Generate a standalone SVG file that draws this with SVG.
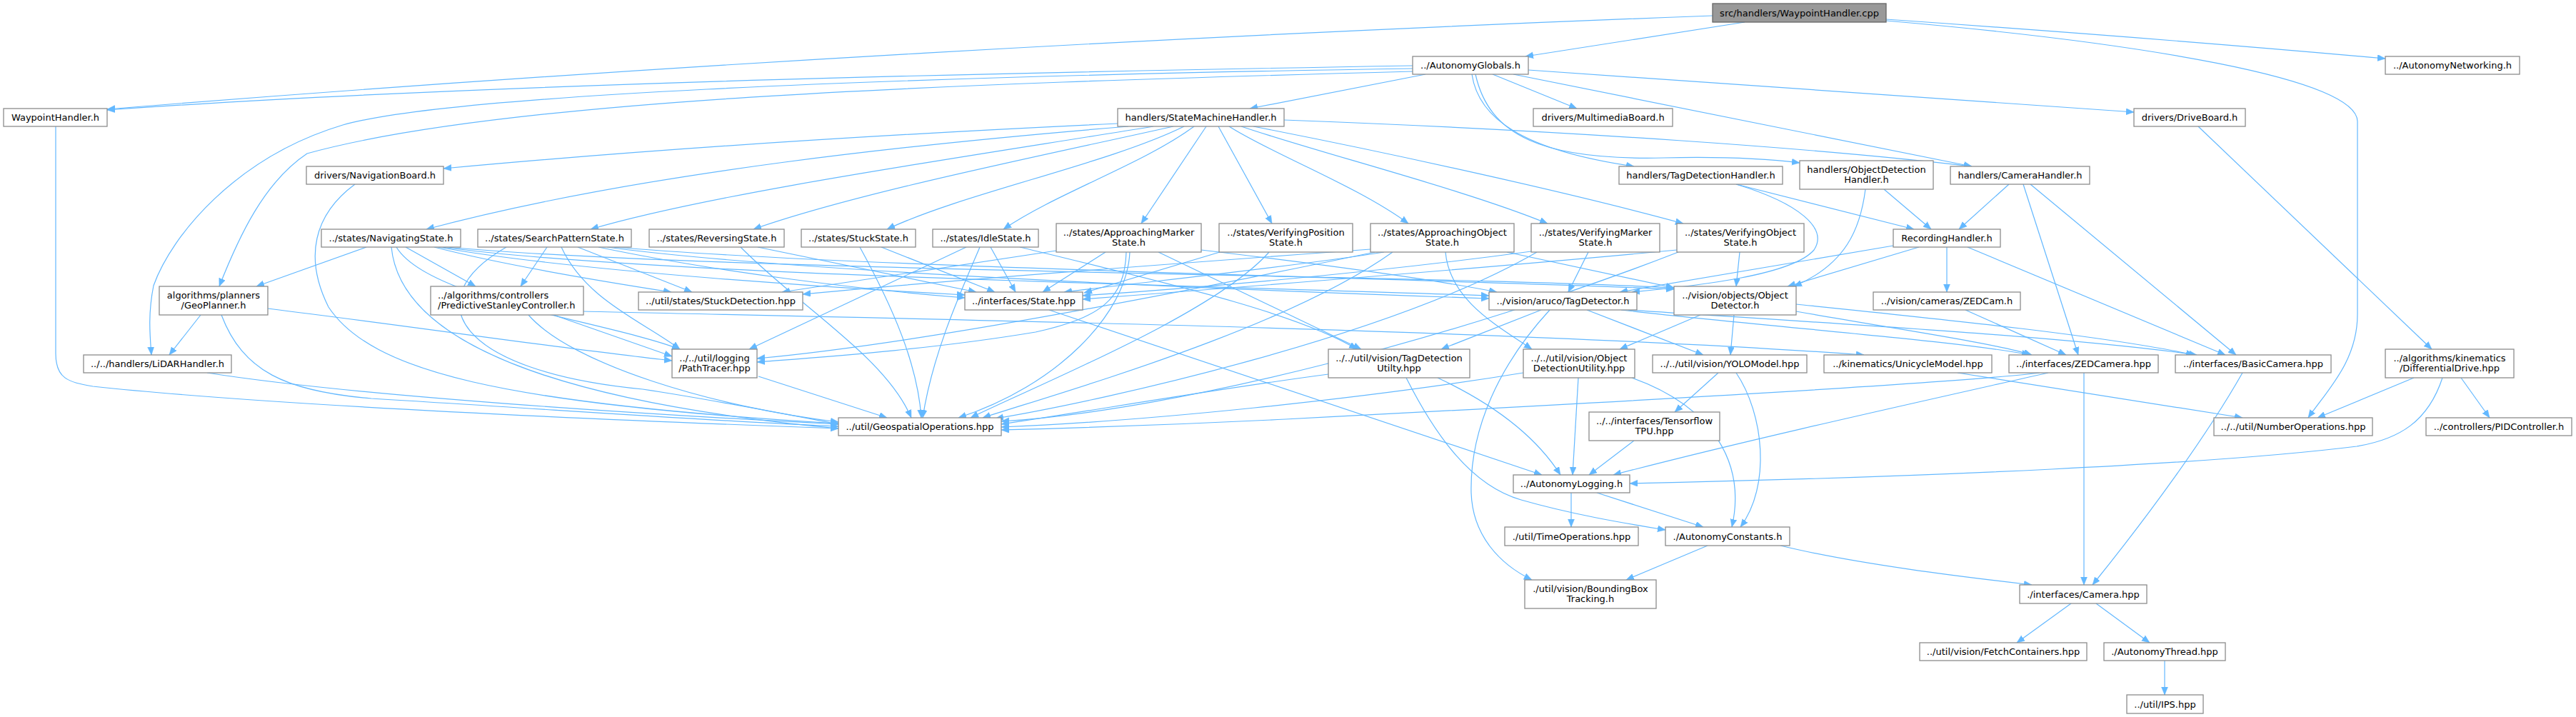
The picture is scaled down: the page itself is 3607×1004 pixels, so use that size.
<svg xmlns="http://www.w3.org/2000/svg" width="3607" height="1004" viewBox="0 0 3607 1004">
<style>
.node rect{fill:#ffffff;stroke:#8c8c8c;stroke-width:1.3}
.src rect{fill:#999999;stroke:#666666}
text{font-family:"DejaVu Sans","Noto Sans",sans-serif;font-size:13px;fill:#000000;text-anchor:middle}
text.l{text-anchor:start}
.e path{fill:none;stroke:#63b8ff;stroke-width:1.2;marker-end:url(#ah)}
</style>
<defs>
<marker id="ah" markerUnits="userSpaceOnUse" markerWidth="12" markerHeight="10" refX="11" refY="4.5" orient="auto">
<path d="M0,0 L11,4.5 L0,9 z" fill="#63b8ff" stroke="#63b8ff" stroke-width="0.5"/>
</marker>
</defs>
<rect x="0" y="0" width="3607" height="1004" fill="#ffffff"/>
<g id="edges" class="e">
<path d="M2443,31 L2136,79"/>
<path d="M2398,22 C1700,48 900,92 150,153"/>
<path d="M2641,27 C2900,45 3150,65 3340,82"/>
<path d="M2641,29 C3000,60 3300,110 3301,170 L3301,440 C3301,505 3260,545 3232,585"/>
<path d="M1978,92 C1500,100 700,115 150,154"/>
<path d="M1978,96 C1200,108 620,135 480,175 C330,220 240,330 215,400 C207,440 210,470 212,497"/>
<path d="M1978,100 C1300,118 700,140 430,215 C370,255 335,330 307,401"/>
<path d="M1996,104 L1750,152"/>
<path d="M2090,104 L2208,152"/>
<path d="M2140,98 L2988,157"/>
<path d="M2061,104 C2070,165 2130,210 2288,233"/>
<path d="M2066,104 C2085,190 2160,225 2330,221 C2420,219 2480,223 2520,228"/>
<path d="M2119,104 L2761,233"/>
<path d="M1798,168 C2200,183 2550,208 2761,233"/>
<path d="M1565,173 C1200,190 900,210 621,236"/>
<path d="M1580,177 C1300,200 900,240 597,321"/>
<path d="M1615,177 C1350,220 1000,270 827,321"/>
<path d="M1643,177 C1450,220 1200,270 1055,321"/>
<path d="M1658,177 C1550,230 1350,270 1242,321"/>
<path d="M1672,177 C1600,230 1480,270 1405,321"/>
<path d="M1689,177 L1598,313"/>
<path d="M1706,177 L1781,313"/>
<path d="M1721,177 C1780,215 1900,260 1972,313"/>
<path d="M1738,177 C1850,215 2050,265 2167,313"/>
<path d="M1755,177 C1950,215 2200,270 2357,313"/>
<path d="M2431,258 L2680,321"/>
<path d="M2431,258 C2520,285 2560,320 2540,350 C2510,385 2380,400 2285,409"/>
<path d="M2638,265 L2704,321"/>
<path d="M2612,265 C2605,320 2585,370 2512,401"/>
<path d="M2813,258 L2743,321"/>
<path d="M2833,258 L2910,497"/>
<path d="M2843,258 L3131,497"/>
<path d="M3078,177 L3405,489"/>
<path d="M3380,529 L3245,585"/>
<path d="M3446,529 L3486,585"/>
<path d="M3420,529 C3400,590 3360,615 3300,625 C3100,650 2700,668 2282,677"/>
<path d="M2741,522 L3140,585"/>
<path d="M2651,344 L2268,409"/>
<path d="M2687,346 L2503,401"/>
<path d="M2726,346 L2726,409"/>
<path d="M2755,346 L3116,497"/>
<path d="M513,346 L359,401"/>
<path d="M568,346 L666,401"/>
<path d="M608,346 C700,370 850,395 940,409"/>
<path d="M614,346 C800,380 1200,405 1351,413"/>
<path d="M620,346 C900,385 1700,400 2085,414"/>
<path d="M626,346 C1000,380 2000,385 2344,403"/>
<path d="M555,346 C600,420 850,450 952,489"/>
<path d="M548,346 C560,470 750,560 1174,600"/>
<path d="M766,346 L729,401"/>
<path d="M809,346 L969,409"/>
<path d="M838,346 C1000,380 1200,405 1351,417"/>
<path d="M850,346 C1100,380 1700,405 2085,418"/>
<path d="M860,346 C1200,375 2000,390 2344,405"/>
<path d="M786,346 C820,420 900,450 952,489"/>
<path d="M709,346 C580,420 640,520 900,545 C1000,560 1100,580 1174,594"/>
<path d="M1037,346 C1120,430 1240,500 1276,585"/>
<path d="M1061,346 L1367,409"/>
<path d="M1204,346 C1250,430 1285,510 1290,585"/>
<path d="M1234,346 L1393,409"/>
<path d="M1353,346 L1049,489"/>
<path d="M1372,346 C1340,420 1305,500 1292,585"/>
<path d="M1387,346 L1422,409"/>
<path d="M1428,346 C1650,400 1820,440 1900,489"/>
<path d="M1479,351 L1095,409"/>
<path d="M1548,353 L1460,409"/>
<path d="M1582,353 C1578,440 1480,540 1342,585"/>
<path d="M1622,353 L1906,489"/>
<path d="M1682,350 C1850,370 2000,390 2096,409"/>
<path d="M1577,353 C1575,420 1540,445 1450,465 C1300,490 1150,500 1060,507"/>
<path d="M1708,353 L1518,410"/>
<path d="M1777,353 C1700,440 1450,540 1359,585"/>
<path d="M1919,349 C1700,365 1300,395 1124,412"/>
<path d="M1938,353 C1800,375 1600,395 1490,409"/>
<path d="M1925,353 C1700,400 1300,480 1060,502"/>
<path d="M1950,353 C1800,460 1500,545 1376,585"/>
<path d="M2024,353 C2030,420 2095,455 2145,489"/>
<path d="M2110,353 L2344,403"/>
<path d="M2224,353 L2196,409"/>
<path d="M2144,352 C1900,385 1650,405 1516,414"/>
<path d="M2152,353 C1950,470 1550,560 1394,586"/>
<path d="M2436,353 L2431,401"/>
<path d="M2348,350 C2050,378 1700,405 1516,419"/>
<path d="M2350,353 C2050,470 1650,575 1402,590"/>
<path d="M281,441 L237,497"/>
<path d="M375,432 C600,460 800,490 941,505"/>
<path d="M310,441 C340,520 400,548 520,558 C800,575 1000,590 1174,597"/>
<path d="M817,436 C1200,445 2100,460 2610,497"/>
<path d="M740,441 C800,510 1000,570 1174,591"/>
<path d="M775,441 L941,499"/>
<path d="M290,522 C500,555 900,580 1174,594"/>
<path d="M78,177 L78,495 C78,530 95,535 130,541 C400,570 900,590 1174,600"/>
<path d="M497,258 C440,300 425,360 460,430 C520,520 700,565 1174,593"/>
<path d="M1062,527 L1242,585"/>
<path d="M1860,524 C1700,545 1500,580 1402,594"/>
<path d="M1969,529 C2010,610 2060,680 2130,700 C2200,720 2270,732 2332,742"/>
<path d="M2013,529 C2090,565 2150,610 2185,665"/>
<path d="M2210,529 L2202,665"/>
<path d="M2133,522 C1900,560 1600,590 1402,598"/>
<path d="M2285,529 C2400,570 2445,650 2425,738"/>
<path d="M2406,522 L2345,577"/>
<path d="M2431,522 C2470,580 2480,680 2437,738"/>
<path d="M2288,617 L2225,665"/>
<path d="M1469,434 L2159,665"/>
<path d="M2918,522 L2918,819"/>
<path d="M2856,522 C2750,535 2400,556 1800,587 C1600,597 1480,600 1402,602"/>
<path d="M2868,522 C2700,560 2450,615 2259,665"/>
<path d="M3140,522 C3090,610 3010,720 2930,819"/>
<path d="M2200,690 L2200,738"/>
<path d="M2236,690 L2385,738"/>
<path d="M2391,764 L2277,812"/>
<path d="M2493,764 C2600,790 2750,808 2845,819"/>
<path d="M2158,434 L2018,489"/>
<path d="M2170,434 C2100,510 2058,600 2060,690 C2062,750 2100,790 2145,812"/>
<path d="M2222,434 L2385,497"/>
<path d="M2270,434 C2500,460 2750,478 2842,497"/>
<path d="M2280,434 C2600,455 2900,472 3076,497"/>
<path d="M2381,441 L2268,489"/>
<path d="M2428,441 L2423,497"/>
<path d="M2515,436 C2650,460 2790,480 2845,497"/>
<path d="M2515,426 C2700,445 2950,470 3072,497"/>
<path d="M2752,434 L2893,497"/>
<path d="M2900,845 L2824,900"/>
<path d="M2935,845 L3010,900"/>
<path d="M3031,925 L3031,973"/>
</g>
<g id="n0" class="node src"><rect x="2398" y="5" width="243" height="26"/><text x="2519.5" y="22.5">src/handlers/WaypointHandler.cpp</text></g>
<g id="n1" class="node"><rect x="1978" y="79" width="162" height="25"/><text x="2059" y="96">../AutonomyGlobals.h</text></g>
<g id="n2" class="node"><rect x="5" y="152" width="145" height="25"/><text x="77.5" y="169">WaypointHandler.h</text></g>
<g id="n3" class="node"><rect x="3340" y="79" width="188" height="25"/><text x="3434" y="96">../AutonomyNetworking.h</text></g>
<g id="n4" class="node"><rect x="3100" y="585" width="222" height="25"/><text x="3211" y="602">../../util/NumberOperations.hpp</text></g>
<g id="n5" class="node"><rect x="1565" y="152" width="233" height="25"/><text x="1681.5" y="169">handlers/StateMachineHandler.h</text></g>
<g id="n6" class="node"><rect x="2147" y="152" width="195" height="25"/><text x="2244.5" y="169">drivers/MultimediaBoard.h</text></g>
<g id="n7" class="node"><rect x="2988" y="152" width="156" height="25"/><text x="3066" y="169">drivers/DriveBoard.h</text></g>
<g id="n8" class="node"><rect x="429" y="233" width="192" height="25"/><text x="525" y="250">drivers/NavigationBoard.h</text></g>
<g id="n9" class="node"><rect x="2267" y="233" width="229" height="25"/><text x="2381.5" y="250">handlers/TagDetectionHandler.h</text></g>
<g id="n10" class="node"><rect x="2520" y="225" width="187" height="40"/><text x="2613.5" y="241.5">handlers/ObjectDetection</text><text x="2613.5" y="256">Handler.h</text></g>
<g id="n11" class="node"><rect x="2731" y="233" width="195" height="25"/><text x="2828.5" y="250">handlers/CameraHandler.h</text></g>
<g id="n12" class="node"><rect x="450" y="321" width="195" height="25"/><text x="547.5" y="338">../states/NavigatingState.h</text></g>
<g id="n13" class="node"><rect x="669" y="321" width="215" height="25"/><text x="776.5" y="338">../states/SearchPatternState.h</text></g>
<g id="n14" class="node"><rect x="909" y="321" width="189" height="25"/><text x="1003.5" y="338">../states/ReversingState.h</text></g>
<g id="n15" class="node"><rect x="1122" y="321" width="160" height="25"/><text x="1202" y="338">../states/StuckState.h</text></g>
<g id="n16" class="node"><rect x="1306" y="321" width="148" height="25"/><text x="1380" y="338">../states/IdleState.h</text></g>
<g id="n17" class="node"><rect x="1479" y="313" width="203" height="40"/><text x="1580.5" y="329.5">../states/ApproachingMarker</text><text x="1580.5" y="344">State.h</text></g>
<g id="n18" class="node"><rect x="1707" y="313" width="187" height="40"/><text x="1800.5" y="329.5">../states/VerifyingPosition</text><text x="1800.5" y="344">State.h</text></g>
<g id="n19" class="node"><rect x="1919" y="313" width="201" height="40"/><text x="2019.5" y="329.5">../states/ApproachingObject</text><text x="2019.5" y="344">State.h</text></g>
<g id="n20" class="node"><rect x="2144" y="313" width="180" height="40"/><text x="2234" y="329.5">../states/VerifyingMarker</text><text x="2234" y="344">State.h</text></g>
<g id="n21" class="node"><rect x="2348" y="313" width="178" height="40"/><text x="2437" y="329.5">../states/VerifyingObject</text><text x="2437" y="344">State.h</text></g>
<g id="n22" class="node"><rect x="2651" y="321" width="150" height="25"/><text x="2726" y="338">RecordingHandler.h</text></g>
<g id="n23" class="node"><rect x="223" y="401" width="152" height="40"/><text x="299" y="417.5">algorithms/planners</text><text x="299" y="432">/GeoPlanner.h</text></g>
<g id="n24" class="node"><rect x="603" y="401" width="214" height="40"/><text class="l" x="613" y="417.5">../algorithms/controllers</text><text class="l" x="613" y="432">/PredictiveStanleyController.h</text></g>
<g id="n25" class="node"><rect x="894" y="409" width="230" height="25"/><text x="1009" y="426">../util/states/StuckDetection.hpp</text></g>
<g id="n26" class="node"><rect x="1351" y="409" width="165" height="25"/><text x="1433.5" y="426">../interfaces/State.hpp</text></g>
<g id="n27" class="node"><rect x="2085" y="409" width="207" height="25"/><text x="2188.5" y="426">../vision/aruco/TagDetector.h</text></g>
<g id="n28" class="node"><rect x="2344" y="401" width="171" height="40"/><text x="2429.5" y="417.5">../vision/objects/Object</text><text x="2429.5" y="432">Detector.h</text></g>
<g id="n29" class="node"><rect x="2623" y="409" width="206" height="25"/><text x="2726" y="426">../vision/cameras/ZEDCam.h</text></g>
<g id="n30" class="node"><rect x="117" y="497" width="207" height="25"/><text x="220.5" y="514">../../handlers/LiDARHandler.h</text></g>
<g id="n31" class="node"><rect x="941" y="489" width="119" height="40"/><text x="1000.5" y="505.5">../../util/logging</text><text x="1000.5" y="520">/PathTracer.hpp</text></g>
<g id="n32" class="node"><rect x="1860" y="489" width="198" height="40"/><text x="1959" y="505.5">../../util/vision/TagDetection</text><text x="1959" y="520">Utilty.hpp</text></g>
<g id="n33" class="node"><rect x="2133" y="489" width="156" height="40"/><text x="2211" y="505.5">../../util/vision/Object</text><text x="2211" y="520">DetectionUtility.hpp</text></g>
<g id="n34" class="node"><rect x="2314" y="497" width="216" height="25"/><text x="2422" y="514">../../util/vision/YOLOModel.hpp</text></g>
<g id="n35" class="node"><rect x="2554" y="497" width="235" height="25"/><text x="2671.5" y="514">../kinematics/UnicycleModel.hpp</text></g>
<g id="n36" class="node"><rect x="2813" y="497" width="209" height="25"/><text x="2917.5" y="514">../interfaces/ZEDCamera.hpp</text></g>
<g id="n37" class="node"><rect x="3046" y="497" width="218" height="25"/><text x="3155" y="514">../interfaces/BasicCamera.hpp</text></g>
<g id="n38" class="node"><rect x="3340" y="489" width="180" height="40"/><text x="3430" y="505.5">../algorithms/kinematics</text><text x="3430" y="520">/DifferentialDrive.hpp</text></g>
<g id="n39" class="node"><rect x="1174" y="585" width="228" height="25"/><text x="1288" y="602">../util/GeospatialOperations.hpp</text></g>
<g id="n40" class="node"><rect x="2225" y="577" width="183" height="40"/><text x="2316.5" y="593.5">../../interfaces/Tensorflow</text><text x="2316.5" y="608">TPU.hpp</text></g>
<g id="n41" class="node"><rect x="3397" y="585" width="204" height="25"/><text x="3499" y="602">../controllers/PIDController.h</text></g>
<g id="n42" class="node"><rect x="2119" y="665" width="163" height="25"/><text x="2200.5" y="682">../AutonomyLogging.h</text></g>
<g id="n43" class="node"><rect x="2107" y="738" width="187" height="26"/><text x="2200.5" y="755.5">./util/TimeOperations.hpp</text></g>
<g id="n44" class="node"><rect x="2332" y="738" width="174" height="26"/><text x="2419" y="755.5">./AutonomyConstants.h</text></g>
<g id="n45" class="node"><rect x="2135" y="812" width="184" height="40"/><text x="2227" y="828.5">./util/vision/BoundingBox</text><text x="2227" y="843">Tracking.h</text></g>
<g id="n46" class="node"><rect x="2828" y="819" width="178" height="26"/><text x="2917" y="836.5">./interfaces/Camera.hpp</text></g>
<g id="n47" class="node"><rect x="2688" y="900" width="234" height="25"/><text x="2805" y="917">../util/vision/FetchContainers.hpp</text></g>
<g id="n48" class="node"><rect x="2946" y="900" width="170" height="25"/><text x="3031" y="917">./AutonomyThread.hpp</text></g>
<g id="n49" class="node"><rect x="2978" y="973" width="107" height="26"/><text x="3031.5" y="990.5">../util/IPS.hpp</text></g>
</svg>
